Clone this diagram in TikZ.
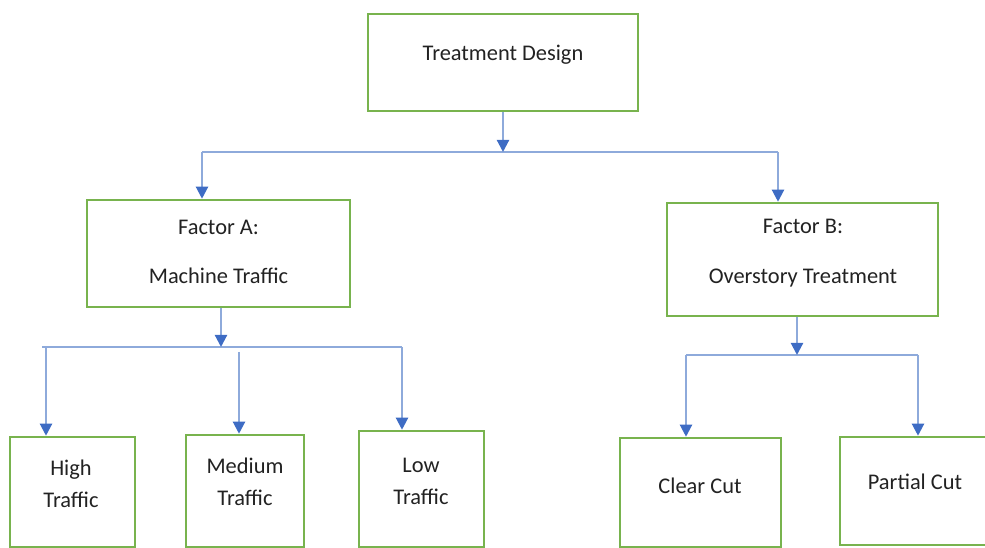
\documentclass[tikz,border=0pt]{standalone}
\usepackage{fontspec}
\setmainfont{Carlito}
\usetikzlibrary{arrows.meta}
\definecolor{boxgreen}{HTML}{78B34E}
\definecolor{lineblue}{HTML}{8EAADB}
\definecolor{tipblue}{HTML}{3E6CC4}
\definecolor{txt}{HTML}{222222}
\tikzset{
  box/.style={draw=boxgreen, line width=1.9pt, fill=white, inner sep=0pt},
  lbl/.style={text=txt, font=\fontsize{16.8}{24}\selectfont, align=center, inner sep=0pt},
  conn/.style={draw=lineblue, line width=1.6pt},
  arr/.style={conn, -{Triangle[width=9pt,length=9pt,color=tipblue]}}
}
\begin{document}
\begin{tikzpicture}[x=0.75pt,y=-0.75pt]
\useasboundingbox (0,0) rectangle (985,548);
% boxes
\node[box, minimum width=270*0.75pt, minimum height=97*0.75pt] (td) at (503,62.5) {};
\node[box, minimum width=263*0.75pt, minimum height=107*0.75pt] (fa) at (218.5,253.5) {};
\node[box, minimum width=271*0.75pt, minimum height=113*0.75pt] (fb) at (802.5,259.5) {};
\node[box, minimum width=125*0.75pt, minimum height=110*0.75pt] (hi) at (72.5,492) {};
\node[box, minimum width=118*0.75pt, minimum height=112*0.75pt] (me) at (245,491) {};
\node[box, minimum width=125*0.75pt, minimum height=116*0.75pt] (lo) at (421.5,489) {};
\node[box, minimum width=161*0.75pt, minimum height=109*0.75pt] (cc) at (700.5,492.5) {};
\node[box, minimum width=160*0.75pt, minimum height=108*0.75pt] (pc) at (920,491) {};
% labels
\node[lbl] (tdt) at (503,55) {Treatment Design};
\node[lbl] (fat) at (218.5,252) {Factor A:\\[13pt]Machine Traffic};
\node[lbl] (fbt) at (803,253) {Factor B:\\[13pt]Overstory Treatment};
\node[lbl] (hit) at (71,484) {High\\Traffic};
\node[lbl] (met) at (245,482) {Medium\\Traffic};
\node[lbl] (lot) at (421,481) {Low\\Traffic};
\node[lbl] (cct) at (700,486) {Clear Cut};
\node[lbl] (pct) at (915,482) {Partial Cut};
% junction coordinates
\coordinate (j1) at (503,152);
\coordinate (j1l) at (202,152);
\coordinate (j1r) at (778,152);
\coordinate (j2) at (221,347);
\coordinate (j2l) at (42,347);
\coordinate (j2r) at (402,347);
\coordinate (j2h) at (46,347);
\coordinate (j2m) at (239,352);
\coordinate (j3) at (797,355);
\coordinate (j3l) at (686,355);
\coordinate (j3r) at (918,355);
% connectors
\draw[conn] (j1l) -- (j1r);
\draw[arr] (td.south) -- (j1);
\draw[arr] (j1l) -- (j1l |- fa.north);
\draw[arr] (j1r) -- (j1r |- fb.north);
\draw[conn] (j2l) -- (j2r);
\draw[arr] (fa.south -| j2) -- (j2);
\draw[arr] (j2h) -- (j2h |- hi.north);
\draw[arr] (j2m) -- (j2m |- me.north);
\draw[arr] (j2r) -- (j2r |- lo.north);
\draw[conn] (j3l) -- (j3r);
\draw[arr] (fb.south -| j3) -- (j3);
\draw[arr] (j3l) -- (j3l |- cc.north);
\draw[arr] (j3r) -- (j3r |- pc.north);
\end{tikzpicture}
\end{document}
